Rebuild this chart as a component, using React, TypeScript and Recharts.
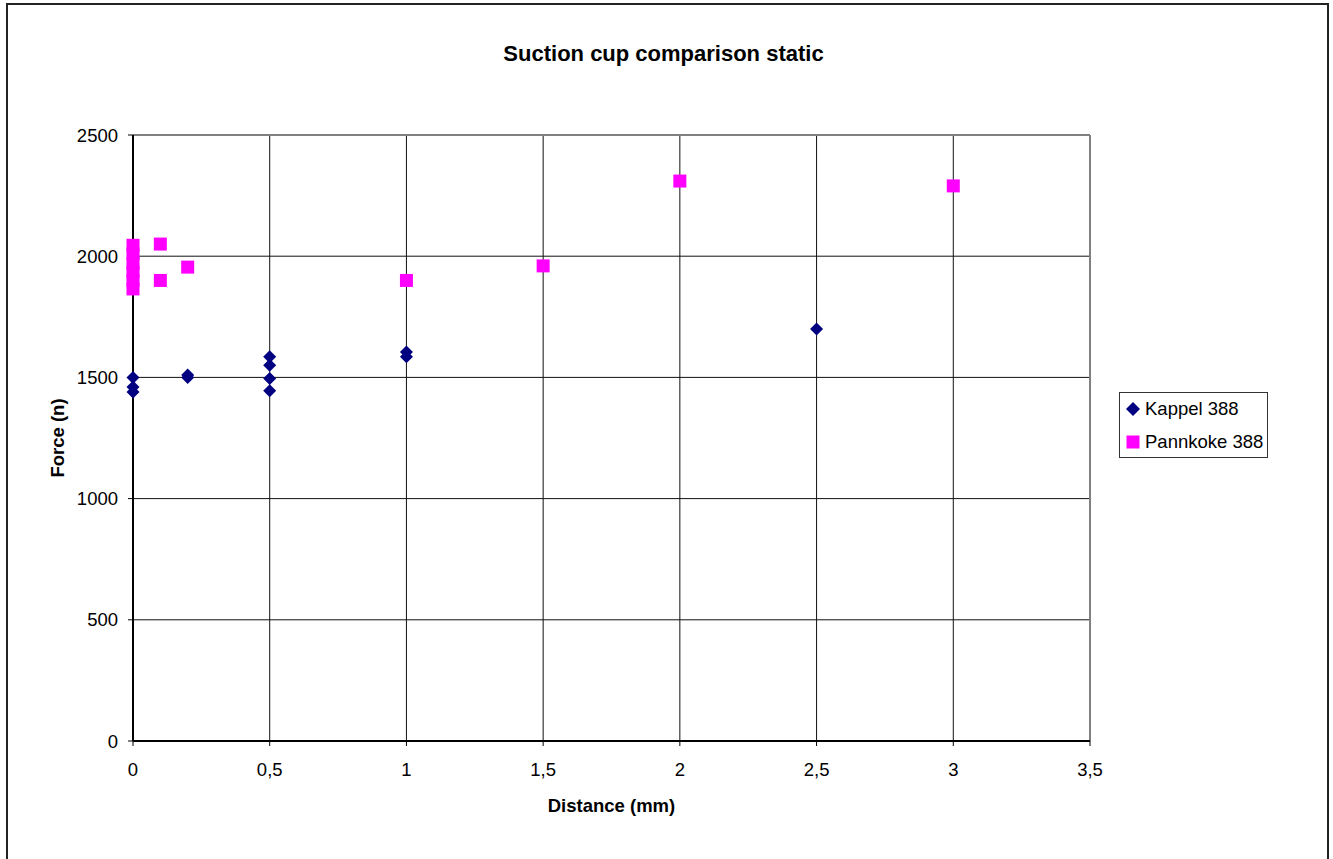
import React from 'react';
import { ScatterChart, Scatter, XAxis, YAxis, CartesianGrid, ReferenceLine, Label } from 'recharts';

const xTicks = [0, 0.5, 1, 1.5, 2, 2.5, 3, 3.5];
const yTicks = [0, 500, 1000, 1500, 2000, 2500];

const kappelX = [0, 0, 0, 0.2, 0.2, 0.5, 0.5, 0.5, 0.5, 1, 1, 2.5];
const kappelY = [1500, 1460, 1440, 1500, 1510, 1585, 1550, 1495, 1445, 1605, 1585, 1700];

const pannX = [0, 0, 0, 0, 0, 0, 0.1, 0.1, 0.2, 1, 1.5, 2, 3];
const pannY = [2045, 2010, 1970, 1935, 1900, 1865, 2050, 1900, 1955, 1900, 1960, 2310, 2290];

const seriesNames = ['Kappel 388', 'Pannkoke 388'];
const KAPPEL = '#000080';
const PANN = '#FF00FF';

const kappelData = kappelX.map((x, i) => ({ x, y: kappelY[i] }));
const pannData = pannX.map((x, i) => ({ x, y: pannY[i] }));

const FONT = '"Liberation Sans", Arial, sans-serif';
const FS = 18.5;

const Diamond = (props: any) => {
  const { cx, cy } = props;
  const r = 6.5;
  return <polygon points={`${cx},${cy - r} ${cx + r},${cy} ${cx},${cy + r} ${cx - r},${cy}`} fill={KAPPEL} />;
};

const Square = (props: any) => {
  const { cx, cy } = props;
  const r = 6.5;
  return <rect x={cx - r} y={cy - r} width={2 * r} height={2 * r} fill={PANN} />;
};

const fmt = (v: number) => String(v).replace('.', ',');

const LegendBox = () => (
  <div
    style={{
      position: 'absolute',
      left: 1119,
      top: 392,
      border: '1px solid #333',
      width: 149,
      height: 66,
      boxSizing: 'border-box',
      fontFamily: FONT,
      fontSize: FS,
      background: '#fff',
      whiteSpace: 'nowrap',
      lineHeight: '20px',
    }}
  >
    <div style={{ position: 'absolute', left: 6, top: 6, display: 'flex', alignItems: 'center' }}>
      <svg width={14} height={14} style={{ marginRight: 5 }}>
        <polygon points="7,0 14,7 7,14 0,7" fill={KAPPEL} />
      </svg>
      <span>{seriesNames[0]}</span>
    </div>
    <div style={{ position: 'absolute', left: 6, top: 39, display: 'flex', alignItems: 'center' }}>
      <svg width={14} height={14} style={{ marginRight: 5 }}>
        <rect x={0.5} y={0.5} width={13} height={13} fill={PANN} />
      </svg>
      <span>{seriesNames[1]}</span>
    </div>
  </div>
);

export default function App() {
  return (
    <div style={{ position: 'absolute', left: 0, top: 0, width: 1333, height: 859, overflow: 'hidden', background: '#fff' }}>
      <div
        style={{
          position: 'absolute',
          left: 6,
          top: 3,
          width: 1323,
          height: 900,
          border: '2px solid #222',
          boxSizing: 'border-box',
        }}
      />
      <div
        style={{
          position: 'absolute',
          left: 0,
          top: 41,
          width: 1327,
          textAlign: 'center',
          fontFamily: FONT,
          fontWeight: 'bold',
          fontSize: 22,
        }}
      >
        Suction cup comparison static
      </div>
      <div style={{ position: 'absolute', left: 0, top: 0 }}>
        <ScatterChart
          width={1333}
          height={859}
          margin={{ top: 135, right: 243, bottom: 88, left: 73 }}
          style={{ fontFamily: FONT }}
        >
          <CartesianGrid stroke="#111" strokeWidth={1} />
          <XAxis
            type="number"
            dataKey="x"
            domain={[0, 3.5]}
            ticks={xTicks}
            tickFormatter={fmt}
            height={30}
            stroke="#000"
            tickSize={5}
            tickMargin={17}
            tick={{ fill: '#000', fontSize: FS, fontFamily: FONT }}
            axisLine={{ stroke: '#000', strokeWidth: 2 }}
            interval={0}
          >
            <Label
              content={(p: any) => {
                const vb = p.viewBox;
                return (
                  <text
                    x={vb.x + vb.width / 2}
                    y={812}
                    textAnchor="middle"
                    fontFamily={FONT}
                    fontWeight="bold"
                    fontSize={FS}
                    fill="#000"
                  >
                    Distance (mm)
                  </text>
                );
              }}
            />
          </XAxis>
          <YAxis
            type="number"
            dataKey="y"
            domain={[0, 2500]}
            ticks={yTicks}
            width={60}
            stroke="#000"
            tickSize={5}
            tickMargin={10}
            tick={{ fill: '#000', fontSize: FS, fontFamily: FONT }}
            axisLine={{ stroke: '#000', strokeWidth: 2 }}
            interval={0}
          >
            <Label
              content={(p: any) => {
                const vb = p.viewBox;
                const cy = vb.y + vb.height / 2;
                return (
                  <text
                    x={64}
                    y={cy}
                    textAnchor="middle"
                    transform={`rotate(-90, 64, ${cy})`}
                    fontFamily={FONT}
                    fontWeight="bold"
                    fontSize={FS}
                    fill="#000"
                  >
                    Force (n)
                  </text>
                );
              }}
            />
          </YAxis>
          <ReferenceLine y={2500} stroke="#808080" strokeWidth={2} ifOverflow="visible" />
          <ReferenceLine x={3.5} stroke="#808080" strokeWidth={2} ifOverflow="visible" />
          <Scatter name={seriesNames[0]} data={kappelData} shape={<Diamond />} isAnimationActive={false} />
          <Scatter name={seriesNames[1]} data={pannData} shape={<Square />} isAnimationActive={false} />
        </ScatterChart>
      </div>
      <LegendBox />
    </div>
  );
}
